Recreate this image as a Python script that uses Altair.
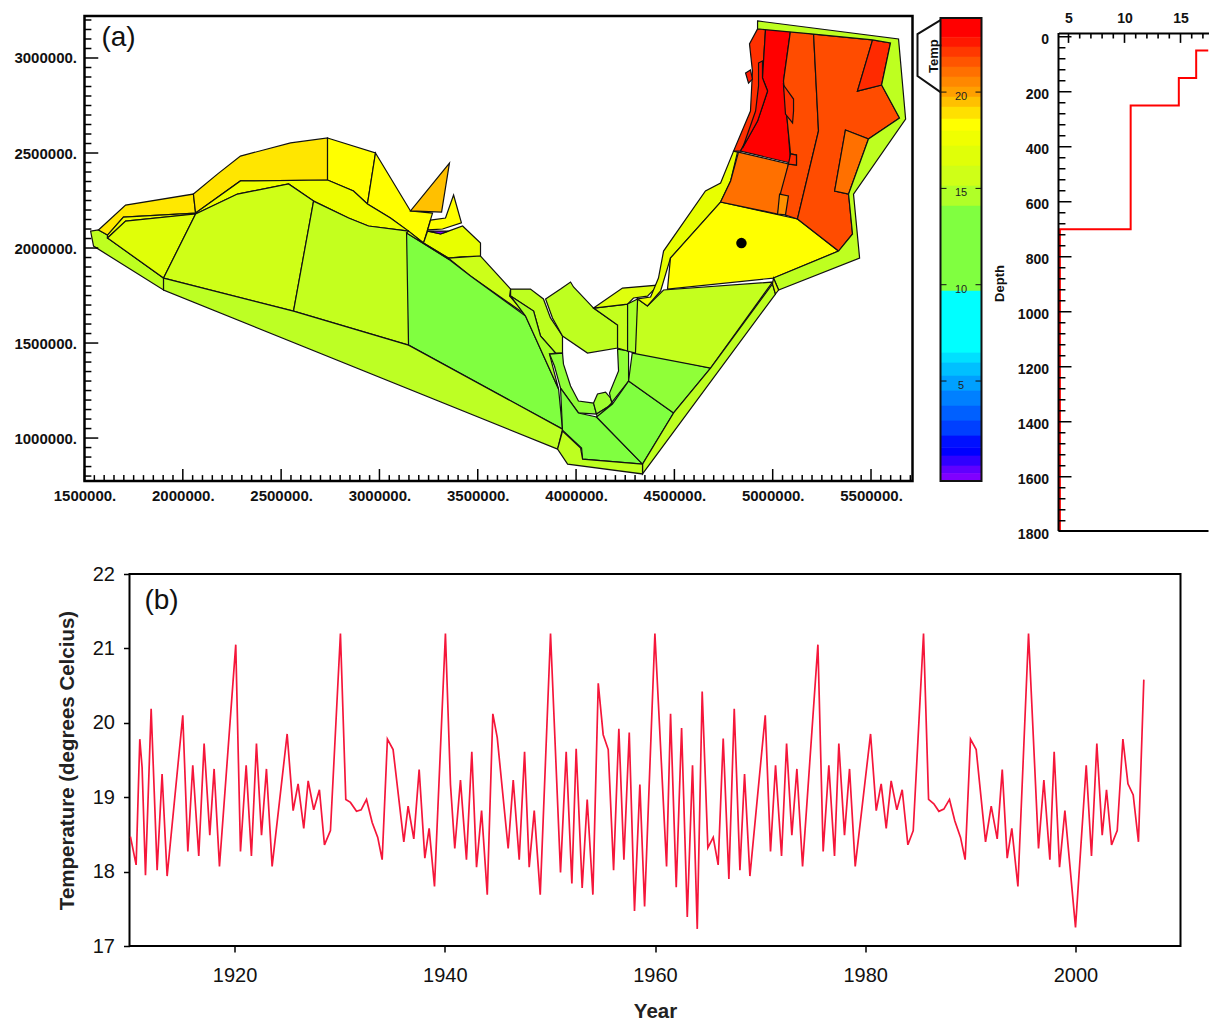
import altair as alt
import numpy as np
import pandas as pd

# ---------- (b) temperature series ----------
years = [1910.09,1910.63,1910.98,1911.2,1911.52,1912.06,1912.63,1913.1,1913.58,1915.07,1915.55,1916.02,1916.59,1917.1,1917.64,1918.05,1918.56,1920.11,1920.56,1921.1,1921.6,1922.08,1922.56,1923.03,1923.57,1925.0,1925.57,1926.04,1926.58,1927.0,1927.53,1928.07,1928.55,1929.12,1930.07,1930.58,1931.02,1931.6,1932.04,1932.55,1933.09,1933.62,1934.04,1934.54,1935.08,1936.1,1936.51,1937.05,1937.56,1938.1,1938.51,1939.02,1940.06,1940.54,1940.95,1941.49,1942.06,1942.57,1943.02,1943.5,1944.04,1944.57,1944.99,1946.03,1946.51,1947.08,1947.59,1948.03,1948.51,1949.08,1950.06,1951.01,1951.55,1952.09,1952.5,1953.07,1953.55,1954.09,1954.6,1955.07,1955.55,1956.06,1956.56,1957.04,1957.55,1958.05,1958.56,1959.01,1959.99,1961.1,1961.48,1962.02,1962.53,1963.07,1963.57,1964.02,1964.49,1965.03,1965.54,1966.01,1966.49,1967.03,1967.54,1968.08,1968.52,1969.03,1970.49,1970.99,1971.47,1972.04,1972.52,1973.02,1973.5,1974.04,1975.5,1976.0,1976.54,1977.08,1977.49,1978.03,1978.51,1979.05,1980.51,1981.05,1981.52,1982.0,1982.47,1983.01,1983.52,1984.06,1984.57,1985.55,1986.03,1986.53,1987.01,1987.48,1988.02,1988.53,1989.07,1989.51,1990.02,1990.56,1991.45,1991.99,1992.56,1993.04,1993.51,1993.95,1994.53,1995.54,1996.49,1997.0,1997.57,1997.98,1998.49,1999.0,2000.01,2001.03,2001.53,2002.04,2002.55,2002.96,2003.44,2003.98,2004.52,2005.0,2005.5,2006.0,2006.51]
temps = [18.47,18.09,19.78,19.40,17.95,20.19,18.02,19.31,17.94,20.10,18.27,19.43,18.21,19.72,18.49,19.38,18.07,21.05,18.27,19.43,18.21,19.72,18.49,19.38,18.07,19.85,18.82,19.18,18.58,19.22,18.83,19.10,18.36,18.55,21.20,18.97,18.93,18.81,18.83,18.97,18.66,18.46,18.16,19.78,19.64,18.40,18.88,18.44,19.37,18.18,18.58,17.80,21.20,19.17,18.31,19.23,18.16,19.61,18.06,18.82,17.69,20.12,19.80,18.31,19.23,18.16,19.61,18.06,18.82,17.69,21.20,17.99,19.61,17.84,19.65,17.78,18.97,17.69,20.53,19.84,19.64,18.02,19.92,18.16,19.87,17.47,19.17,17.53,21.20,18.07,20.12,17.79,19.93,17.39,19.43,17.23,20.42,18.32,18.46,18.09,19.79,17.90,20.19,18.02,19.31,17.94,20.10,18.27,19.43,18.21,19.72,18.49,19.38,18.07,21.05,18.27,19.43,18.21,19.72,18.49,19.38,18.07,19.85,18.82,19.18,18.58,19.22,18.83,19.10,18.36,18.55,21.20,18.97,18.91,18.81,18.84,18.97,18.68,18.46,18.16,19.78,19.64,18.40,18.88,18.44,19.37,18.18,18.58,17.80,21.20,18.31,19.23,18.16,19.61,18.06,18.82,17.25,19.43,18.21,19.72,18.49,19.10,18.36,18.55,19.78,19.18,19.03,18.40,20.58]

# ---------- depth profile ----------
profile_temp = [17.5,16.4,16.4,14.85,14.85,10.55,10.55,4.23,4.23]
profile_depth = [50,50,150,150,250,250,700,700,1795]
depth_labels = [0,200,400,600,800,1000,1200,1400,1600,1800]
temp_labels = [5,10,15]

# ---------- colour bar ----------
bar_edges = [23.84,22.85,22.34,21.82,21.30,20.78,20.26,19.74,19.22,18.6,17.98,17.2,16.16,15.12,14.08,9.67,6.46,5.94,5.26,4.48,3.7,2.93,2.15,1.53,1.11,0.59,0.2,-0.19]
bar_colors = ["#FF0000","#FF1800","#FF3800","#FF5500","#FF7000","#FF8800","#FFA000","#FFC000","#FFE000","#FFFF00","#F0FF00","#E0FF08","#CFFF17","#B0FF28","#80FF40","#00FFFF","#00E0FF","#00C0FF","#00A0FF","#0080FF","#0060FF","#0040FF","#0010FF","#0000FF","#3000FF","#6000FF","#8000FF"]
bar_ticks = [20,15,10,5]

# ---------- map cells, thousands of map units ----------
cells = [
("#BEFF20",[(1531,2089),(1571,2095),(1617,2068),(1617,2053),(1902,1842),(1902,1779),(1546,2010)]),
("#FFE800",[(1571,2095),(1709,2226),(2054,2284),(2065,2184),(1698,2163),(1617,2068)]),
("#F0FF00",[(1698,2163),(2065,2184),(2065,2179),(1709,2142),(1617,2053),(1617,2068)]),
("#E0FF08",[(1709,2142),(2065,2179),(1902,1842),(1617,2053)]),
("#FFE600",[(2054,2284),(2176,2389),(2293,2484),(2548,2553),(2736,2579),(2736,2358),(2293,2353),(2065,2184)]),
("#FFFF00",[(2736,2579),(2980,2500),(2939,2232),(2868,2300),(2736,2358)]),
("#FFFF00",[(2980,2500),(3158,2195),(3270,2184),(3224,2026),(3148,2089),(3056,2158),(2939,2232)]),
("#FFC000",[(3356,2447),(3316,2189),(3158,2195)]),
("#FFFF00",[(3377,2279),(3417,2132),(3321,2100),(3245,2095),(3260,2147),(3336,2158)]),
("#E8FF00",[(3423,2116),(3514,2026),(3514,1958),(3412,1953),(3351,1947),(3224,2026),(3245,2089),(3311,2074),(3351,2089)]),
("#8000FF",[(3250,2089),(3351,2089),(3311,2074)]),
("#EEFF00",[(2065,2184),(2293,2353),(2736,2358),(2868,2300),(2939,2232),(3056,2158),(3148,2089),(2944,2116),(2843,2158),(2665,2247),(2538,2337),(2278,2284),(2065,2179)]),
("#CFFF17",[(2065,2179),(2278,2284),(2538,2337),(2665,2247),(2563,1668),(1902,1842)]),
("#C4FF1E",[(2665,2247),(2843,2158),(2944,2116),(3148,2089),(3148,1489),(2563,1668)]),
("#CCFF19",[(3351,1947),(3514,1958),(3667,1784),(3662,1747),(3753,1642),(3463,1853)]),
("#80FF40",[(3138,2079),(3351,1942),(3463,1853),(3743,1642),(3911,1258),(3931,1047),(3148,1489)]),
("#BDFF24",[(1902,1842),(2563,1668),(3148,1489),(3931,1047),(3906,942),(1902,1779)]),
("#D8FF10",[(3148,2089),(3224,2026),(3351,1947),(3351,1942),(3138,2079)]),
("#BEFF20",[(3667,1784),(3768,1784),(3834,1732),(3870,1632),(3931,1537),(3931,1447),(3896,1447),(3819,1537),(3784,1668),(3667,1747)]),
("#A8FF28",[(3667,1747),(3784,1668),(3819,1537),(3896,1447),(3865,1442),(3911,1258),(3743,1642)]),
("#90FF38",[(3865,1442),(3931,1447),(3936,1389),(3972,1274),(4012,1195),(4089,1184),(4104,1126),(4012,1132),(3921,1263),(3890,1379)]),
("#A0FF30",[(4089,1184),(4109,1232),(4150,1242),(4175,1211),(4185,1179),(4104,1126)]),
("#90FF38",[(4211,1468),(4267,1458),(4267,1300),(4175,1179),(4109,1105),(4104,1126),(4185,1179),(4175,1211),(4170,1237),(4216,1353)]),
("#80FF40",[(3921,1263),(4012,1132),(4104,1111),(4338,863),(4033,889),(4028,947),(3931,1042)]),
("#80FF40",[(4104,1111),(4185,1179),(4267,1300),(4496,1132),(4338,863)]),
("#90FF38",[(4287,1458),(4684,1368),(4496,1132),(4267,1300)]),
("#C4FF1E",[(4287,1447),(4684,1368),(4999,1821),(4445,1779),(4363,1695),(4313,1732)]),
("#BEFF20",[(3845,1732),(3921,1784),(3972,1821),(3987,1795),(4089,1684),(4211,1595),(4211,1474),(4058,1447),(3931,1537),(3880,1632)]),
("#C4FF1E",[(4089,1684),(4262,1705),(4262,1458),(4211,1474),(4211,1595)]),
("#DFFF0D",[(4089,1684),(4236,1789),(4419,1805),(4363,1747),(4292,1737),(4262,1705)]),
("#A8FF28",[(4262,1705),(4313,1732),(4302,1447),(4262,1458)]),
("#E8FF00",[(4801,2510),(4821,2505),(4786,2353),(4735,2242),(4480,1947),(4430,1774),(4363,1695),(4313,1732),(4379,1742),(4419,1842),(4445,1984),(4658,2300),(4735,2342)]),
("#FFFF00",[(4735,2242),(5126,2153),(5335,1984),(5004,1842),(4465,1784),(4480,1947)]),
("#FF7000",[(4826,2505),(5080,2442),(5025,2179),(4735,2242),(4786,2353)]),
("#FF3000",[(4923,3153),(4964,3158),(4948,2895),(4974,2826),(4923,2668),(4836,2510),(4801,2510),(4887,2721),(4897,2931),(4882,3074)]),
("#FF0000",[(4964,3158),(5091,3147),(5055,2879),(5080,2605),(5091,2447),(4836,2510),(4923,2668),(4974,2826),(4948,2895)]),
("#FF1000",[(4928,2974),(4948,2984),(4948,2895),(4974,2826),(4923,2668),(4847,2526),(4913,2721),(4928,2853)]),
("#FF1800",[(4862,2921),(4887,2937),(4897,2889),(4877,2868)]),
("#FF4C00",[(5091,3147),(5208,3126),(5233,2616),(5126,2153),(5065,2174),(5040,2289),(5080,2442),(5121,2437),(5121,2489),(5091,2495),(5080,2605),(5055,2879)]),
("#FF3000",[(5055,2858),(5106,2784),(5106,2721),(5101,2658),(5065,2705)]),
("#FF3000",[(5091,2495),(5121,2489),(5121,2437),(5080,2442)]),
("#FF9000",[(5035,2284),(5080,2274),(5065,2174),(5025,2179)]),
("#FF4C00",[(5208,3126),(5508,3095),(5431,2826),(5554,2858),(5645,2684),(5487,2574),(5370,2621),(5315,2300),(5386,2284),(5406,2074),(5335,1984),(5126,2153),(5233,2616)]),
("#FF7000",[(5370,2621),(5487,2574),(5386,2284),(5315,2300)]),
("#FF2A00",[(5508,3095),(5599,3079),(5554,2858),(5431,2826)]),
("#BEFF20",[(4923,3195),(5640,3100),(5676,2679),(5411,2284),(5442,1947),(5030,1779),(5004,1842),(5335,1984),(5406,2074),(5386,2284),(5487,2574),(5645,2684),(5554,2858),(5599,3079),(5508,3095),(5208,3126),(4923,3153)]),
("#BEFF20",[(4999,1811),(4684,1368),(4496,1132),(4338,863),(4338,811),(5014,1758)]),
("#E0FF08",[(5004,1842),(5030,1779),(5014,1758),(4999,1811)]),
("#BEFF20",[(3931,1037),(4023,947),(4033,889),(4338,863),(4338,811),(3957,863),(3906,942)]),
]
marker_east, marker_north = [4841000], [2026000]

FONT = "Liberation Sans"
rows = []
for pid, (col, pts) in enumerate(cells):
    for seq, (e, n) in enumerate(pts):
        rows.append(dict(pid=pid, seq=seq, e=e * 1000, n=n * 1000, col=col))
cells_df = pd.DataFrame(rows)

X_DOM = [1500000, 5711000]
Y_DOM = [774000, 3221000]
xs = alt.X("e:Q", scale=alt.Scale(domain=X_DOM, nice=False, zero=False),
           axis=alt.Axis(title=None, grid=False, ticks=False, domain=False,
                         values=[1500000 + 500000 * i for i in range(9)],
                         labelExpr="format(datum.value,'d')+'.'", labelFont=FONT, labelFontWeight="bold",
                         labelFontSize=15, labelColor="#111", labelPadding=7, labelOverlap=False,
                         labelFlush=False))
ys = alt.Y("n:Q", scale=alt.Scale(domain=Y_DOM, nice=False, zero=False),
           axis=alt.Axis(title=None, grid=False, ticks=False, domain=False,
                         values=[1000000 + 500000 * i for i in range(5)],
                         labelExpr="format(datum.value,'d')+'.'", labelFont=FONT, labelFontWeight="bold",
                         labelFontSize=15, labelColor="#111", labelPadding=8, labelOverlap=False))

map_cells = alt.Chart(cells_df).mark_line(interpolate="linear-closed", stroke="#111111", strokeWidth=1.2).encode(
    x=xs, y=ys, order="seq:Q", detail="pid:Q", fill=alt.Fill("col:N", scale=None, legend=None))
marker = alt.Chart(pd.DataFrame(dict(e=marker_east, n=marker_north))).mark_point(
    filled=True, color="black", size=110, opacity=1).encode(x=alt.X("e:Q"), y=alt.Y("n:Q"))

mx = np.arange(1500000, 5700001, 50000)
xt = pd.DataFrame(dict(e=mx, n=Y_DOM[0], n2=[Y_DOM[0] + (63000 if v % 500000 == 0 else 31000) for v in mx]))
map_xt = alt.Chart(xt).mark_rule(color="black", strokeWidth=1.5).encode(x="e:Q", y="n:Q", y2="n2:Q")
my = np.arange(800000, 3200001, 50000)
yt = pd.DataFrame(dict(n=my, e=X_DOM[0], e2=[X_DOM[0] + (70000 if v % 500000 == 0 else 35000) for v in my]))
map_yt = alt.Chart(yt).mark_rule(color="black", strokeWidth=1.5).encode(y="n:Q", x="e:Q", x2="e2:Q")
tag_a = alt.Chart(pd.DataFrame(dict(e=[1673000], n=[3105000], t=["(a)"]))).mark_text(
    font=FONT, fontSize=28, color="#111").encode(x="e:Q", y="n:Q", text="t:N")
map_chart = alt.layer(map_cells, marker, map_xt, map_yt, tag_a).properties(
    width=828, height=465, view=alt.ViewConfig(stroke="black", strokeWidth=2.5))

# colour bar panel
T_TOP, T_BOT = 23.95, -0.19
p_x = alt.X("u:Q", scale=alt.Scale(domain=[0, 136], nice=False), axis=None)
p_y = alt.Y("T:Q", scale=alt.Scale(domain=[T_BOT, T_TOP], nice=False, zero=False), axis=None)
bar_df = pd.DataFrame(dict(u=23, u2=64, T=bar_edges[:-1], T2=bar_edges[1:], c=bar_colors))
bar = alt.Chart(bar_df).mark_rect(strokeWidth=0.6).encode(
    x=p_x, x2="u2:Q", y=p_y, y2="T2:Q", fill=alt.Fill("c:N", scale=None, legend=None),
    stroke=alt.Stroke("c:N", scale=None, legend=None))
box = alt.Chart(pd.DataFrame(dict(u=[23], u2=[64], T=[bar_edges[0]], T2=[bar_edges[-1]]))).mark_rect(
    fill=None, stroke="#111", strokeWidth=2).encode(x="u:Q", x2="u2:Q", y="T:Q", y2="T2:Q")
btick = pd.DataFrame([dict(u=a, u2=b, T=t) for t in bar_ticks for a, b in ((23, 29), (58, 64))])
bticks = alt.Chart(btick).mark_rule(color="#111", strokeWidth=1).encode(x="u:Q", x2="u2:Q", y="T:Q")
blabels = alt.Chart(pd.DataFrame(dict(u=43.5, T=bar_ticks, s=[str(t) for t in bar_ticks]))).mark_text(
    font=FONT, fontSize=11, color="#222", dy=5).encode(x="u:Q", y="T:Q", text="s:N")
badge_df = pd.DataFrame(dict(u=[23, 0, 0, 23], T=[23.74, 23.01, 20.83, 20.0], o=[0, 1, 2, 3]))
badge = alt.Chart(badge_df).mark_line(color="#111", strokeWidth=2).encode(x="u:Q", y="T:Q", order="o:Q")
badge_t = alt.Chart(pd.DataFrame(dict(u=[16], T=[21.87], s=["Temp"]))).mark_text(
    font=FONT, fontSize=13, fontWeight="bold", angle=270, color="#111").encode(x="u:Q", y="T:Q", text="s:N")
bar_chart = alt.layer(bar, box, bticks, blabels, badge, badge_t).properties(
    width=136, height=465, view=alt.ViewConfig(stroke=None))

# depth panel
D_DOM = [-75.3, 1801]
V_DOM = [4.107, 17.5]
d_x = alt.X("v:Q", scale=alt.Scale(domain=V_DOM, nice=False, zero=False),
            axis=alt.Axis(orient="top", title=None, grid=False, ticks=False, offset=-17, values=temp_labels,
                          domainColor="black", domainWidth=2, labelFont=FONT, labelFontWeight="bold",
                          labelFontSize=14, labelColor="#111", labelPadding=8, format="d",
                          minExtent=0, maxExtent=0))
d_y = alt.Y("d:Q", scale=alt.Scale(domain=[D_DOM[1], D_DOM[0]], nice=False, zero=False),
            axis=alt.Axis(title="Depth", grid=False, ticks=False, domain=False, values=depth_labels, format="d",
                          labelFont=FONT, labelFontWeight="bold", labelFontSize=14, labelColor="#111",
                          labelPadding=10, labelOffset=3, labelOverlap=False, titleFont=FONT,
                          titleFontWeight="bold", titleFontSize=13, titleColor="#111", titleX=-52, titleY=267))
prof_df = pd.DataFrame(dict(v=profile_temp, d=profile_depth, o=range(len(profile_temp))))
prof = alt.Chart(prof_df).mark_line(color="#FF0000", strokeWidth=2, clip=True).encode(x=d_x, y=d_y, order="o:Q")
dv = np.arange(5, 18)
dxt = alt.Chart(pd.DataFrame(dict(v=dv, d=-13.5, d2=[-13.5 + (36 if v % 5 == 0 else 20) for v in dv]))).mark_rule(
    color="black", strokeWidth=1.6).encode(x="v:Q", y="d:Q", y2="d2:Q")
dd = np.arange(0, 1801, 40)
dyt = alt.Chart(pd.DataFrame(dict(d=dd, v=V_DOM[0], v2=[V_DOM[0] + (1.16 if x % 200 == 0 else 0.62) for x in dd]))).mark_rule(
    color="black", strokeWidth=1.4, clip=True).encode(y="d:Q", x="v:Q", x2="v2:Q")
d_left = alt.Chart(pd.DataFrame(dict(v=[V_DOM[0]], d=[-13.5], d2=[1797.5]))).mark_rule(
    color="black", strokeWidth=2).encode(x="v:Q", y="d:Q", y2="d2:Q")
d_bot = alt.Chart(pd.DataFrame(dict(v=[V_DOM[0]], v2=[V_DOM[1]], d=[1797.0]))).mark_rule(
    color="black", strokeWidth=2).encode(x="v:Q", x2="v2:Q", y="d:Q")
depth_chart = alt.layer(prof, dxt, dyt, d_left, d_bot).properties(
    width=150, height=516, view=alt.ViewConfig(stroke=None))

top_row = alt.hconcat(map_chart, bar_chart, depth_chart, spacing=5, bounds="flush")

# temperature panel
ts_df = pd.DataFrame(dict(year=years, temp=temps))
ts = alt.Chart(ts_df).mark_line(color="#F5163A", strokeWidth=1.7, clip=True).encode(
    x=alt.X("year:Q", scale=alt.Scale(domain=[1910, 2010], nice=False, zero=False),
            axis=alt.Axis(title="Year", grid=False, values=[1920, 1940, 1960, 1980, 2000], format="d", domain=False,
                          ticks=True, tickSize=6, tickWidth=1.5, tickColor="black", labelFont=FONT, labelFontSize=20, labelColor="#111",
                          labelPadding=13, titleFont=FONT, titleFontSize=20.5, titleFontWeight="bold",
                          titleColor="#222", titlePadding=16)),
    y=alt.Y("temp:Q", scale=alt.Scale(domain=[17, 22], nice=False, zero=False),
            axis=alt.Axis(title="Temperature (degrees Celcius)", grid=False, values=[17, 18, 19, 20, 21, 22], format="d",
                          domain=False, ticks=True, tickSize=6, tickWidth=1.5, tickColor="black", labelFont=FONT, labelFontSize=20,
                          labelColor="#111", labelPadding=9, titleFont=FONT, titleFontSize=20.5,
                          titleFontWeight="bold", titleColor="#222", titlePadding=15)))
tag_b = alt.Chart(pd.DataFrame(dict(year=[1913.05], temp=[21.64], t=["(b)"]))).mark_text(
    font=FONT, fontSize=28, color="#111").encode(x="year:Q", y="temp:Q", text="t:N")
ts_chart = alt.layer(ts, tag_b).properties(width=1051, height=372, view=alt.ViewConfig(stroke="black", strokeWidth=2))

spacer = alt.Chart(pd.DataFrame(dict(a=[0]))).mark_point(opacity=0).encode(
    x=alt.value(0), y=alt.value(0)).properties(width=45, height=10, view=alt.ViewConfig(stroke=None))
bottom_row = alt.hconcat(spacer, ts_chart, spacing=0, bounds="flush")

chart = alt.vconcat(top_row, bottom_row, spacing=21).properties(
    padding={"left": 4.5, "top": 3, "right": 0, "bottom": 0}, background="white")

chart.save("out.html", embed_options={"renderer": "svg", "actions": False})
